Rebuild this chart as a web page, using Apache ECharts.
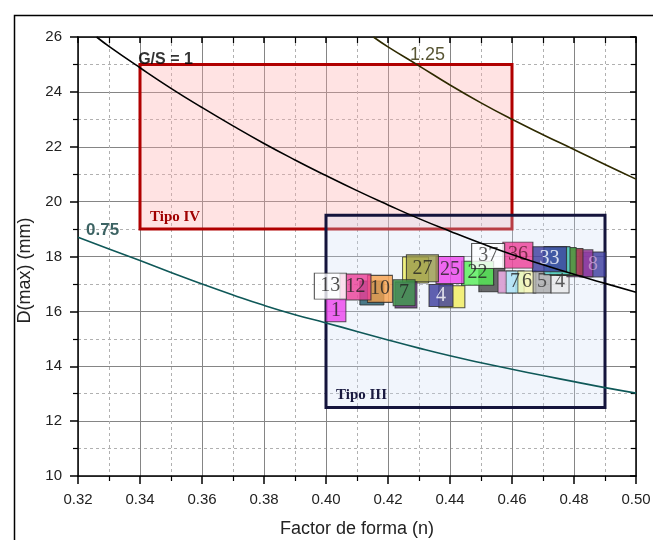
<!DOCTYPE html>
<html><head><meta charset="utf-8">
<script src="https://cdn.jsdelivr.net/npm/echarts@6/dist/echarts.min.js"></script>
<style>html,body{margin:0;padding:0;background:#fff}#c{width:653px;height:540px}</style>
</head><body><div id="c"></div>
<script>
// ---- data ----
const xTicksMin = 0.32, xTicksMax = 0.50, xStep = 0.02;
const yTicksMin = 10, yTicksMax = 26, yStep = 2;

// G/S = 1 curve
const gs1N = [0.326, 0.33, 0.34, 0.35, 0.36, 0.37, 0.38, 0.39, 0.40, 0.41, 0.42, 0.43, 0.44, 0.45, 0.46, 0.47, 0.48, 0.49, 0.50];
const gs1D = [26.0, 25.66, 24.88, 24.13, 23.43, 22.76, 22.12, 21.52, 20.95, 20.40, 19.88, 19.38, 18.92, 18.48, 18.07, 17.70, 17.35, 17.02, 16.70];
// G/S = 1.25 curve
const gs125N = [0.4153, 0.42, 0.43, 0.44, 0.45, 0.46, 0.47, 0.48, 0.49, 0.50];
const gs125D = [26.0, 25.64, 24.95, 24.25, 23.60, 23.00, 22.44, 21.90, 21.35, 20.82];
// G/S = 0.75 curve
const gs075N = [0.32, 0.33, 0.34, 0.35, 0.36, 0.37, 0.38, 0.39, 0.40, 0.41, 0.42, 0.43, 0.44, 0.45, 0.46, 0.47, 0.48, 0.49, 0.50];
const gs075D = [18.70, 18.27, 17.85, 17.42, 17.00, 16.60, 16.22, 15.88, 15.58, 15.27, 14.96, 14.66, 14.38, 14.13, 13.89, 13.66, 13.44, 13.22, 13.02];

// zones (Tipo IV, Tipo III)
const zoneNames = ['Tipo IV', 'Tipo III'];
const zoneNMin = [0.34, 0.40];
const zoneNMax = [0.46, 0.49];
const zoneDMin = [19.0, 12.5];
const zoneDMax = [25.0, 19.5];

// samples (labelled squares), listed in drawing order
const sampleLabel = ['', '', '7', '6', '5', '4', '', '4', '22', '8', '', '', '', '', '33', '36', '37', '25', '', '27', '', '7', '', '10', '12', '1', '13'];
const sampleN = [0.4535, 0.4584, 0.4610, 0.4648, 0.4697, 0.4755, 0.4406, 0.4371, 0.4489, 0.4861, 0.4819, 0.4787, 0.4765, 0.4745, 0.4721, 0.4619, 0.4523, 0.4400, 0.4289, 0.4311, 0.4258, 0.4252, 0.4148, 0.4174, 0.4095, 0.4032, 0.4014];
const sampleD = [17.15, 17.07, 17.07, 17.07, 17.07, 17.07, 16.53, 16.58, 17.39, 17.71, 17.75, 17.80, 17.82, 17.85, 17.90, 18.05, 18.02, 17.51, 17.51, 17.57, 16.60, 16.68, 16.67, 16.82, 16.89, 16.04, 16.92];

// text annotations
const noteText = ['G/S = 1', '1.25', '0.75'];
const noteN = [0.3394, 0.4271, 0.3226];
const noteD = [25.18, 25.34, 18.97];

// ---- styles ----
const sampleFill = ['#454545', '#f9b3f0', '#a8eef8', '#f8f8b0', '#a9a9a9', '#e8e8e8', '#f3ee5a', '#3b3b9c', '#55ee55', '#3b3b9c', '#9a3aa0', '#a84048', '#44aa44', '#5ad8d8', '#3b3b9c', '#ee3d96', '#ffffff', '#ee44ee', '#f0f060', '#9a9a4a', '#6b2d86', '#3c9a48', '#1f5a6a', '#f7a04a', '#ee3d96', '#ee44ee', '#ffffff'];
const sampleTextColor = ['#222', '#222', '#222', '#222', '#333', '#333', '#222', '#ffffff', '#222', '#c8a0d0', '#222', '#222', '#222', '#222', '#ffffff', '#5a2030', '#333', '#222', '#222', '#222', '#222', '#222', '#222', '#222', '#222', '#222', '#222'];
const sampleW = [26, 18, 18, 18, 18, 18, 26, 24, 32, 26, 26, 26, 26, 26, 34, 30, 33, 28, 26, 32, 22, 22, 24, 25, 31, 20, 32];
const sampleH = [24, 22, 22, 22, 22, 22, 22, 22, 24, 25, 27, 27, 28, 28, 25, 26, 25, 27, 26, 27, 26, 26, 24, 27, 26, 23, 26];
const zoneFill = ['rgba(255,170,170,0.33)', 'rgba(205,220,245,0.28)'];
const zoneStroke = ['#b00000', '#14143c'];
const zoneTextColor = ['#a00000', '#1a1a40'];
const noteColor = ['#000000', '#2e2a00', '#0b3c3c'];
const noteSize = [16, 18, 17];
const noteWeight = ['bold', 'normal', 'bold'];

const chart = echarts.init(document.getElementById('c'), null, {renderer: 'canvas'});
const font = 'Liberation Sans, Arial, sans-serif';
const serif = 'Liberation Serif, Times New Roman, serif';

function baseX(pos) {
  const main = pos === 'bottom';
  return {
    type: 'value', position: pos, min: xTicksMin, max: xTicksMax, interval: xStep,
    axisLine: {show: true, onZero: false, lineStyle: {color: '#000', width: 1.5}},
    axisTick: {show: true, inside: !main, length: main ? 8 : 6, lineStyle: {color: '#000', width: 1.5}},
    minorTick: {show: true, splitNumber: 2, length: main ? 5 : 6, lineStyle: {color: '#000', width: 1.2}},
    splitLine: {show: main, lineStyle: {color: '#858585', width: 1}},
    minorSplitLine: {show: main, lineStyle: {color: '#b0b0b0', width: 1, type: [3, 3]}},
    axisLabel: {show: main, formatter: v => v.toFixed(2), fontSize: 15, color: '#222', margin: 16, fontFamily: font},
    name: main ? 'Factor de forma (n)' : '', nameLocation: 'middle', nameGap: 44,
    nameTextStyle: {fontSize: 18, color: '#222', fontFamily: font}
  };
}
function baseY(pos) {
  const main = pos === 'left';
  return {
    type: 'value', position: pos, min: yTicksMin, max: yTicksMax, interval: yStep,
    axisLine: {show: true, onZero: false, lineStyle: {color: '#000', width: 1.5}},
    axisTick: {show: true, inside: !main, length: main ? 8 : 6, lineStyle: {color: '#000', width: 1.5}},
    minorTick: {show: true, splitNumber: 2, length: 5, lineStyle: {color: '#000', width: 1.2}},
    splitLine: {show: main, lineStyle: {color: '#858585', width: 1}},
    minorSplitLine: {show: main, lineStyle: {color: '#b0b0b0', width: 1, type: [3, 3]}},
    axisLabel: {show: main, fontSize: 15, color: '#222', margin: 16, fontFamily: font},
    name: main ? 'D(max) (mm)' : '', nameLocation: 'middle', nameGap: 42, nameRotate: 90,
    nameTextStyle: {fontSize: 18, color: '#222', fontFamily: font, padding: [0, 28, 0, 0]}
  };
}

const zoneData = zoneNames.map((nm, i) => [zoneNMin[i], zoneNMax[i], zoneDMin[i], zoneDMax[i], i]);

const option = {
  animation: false,
  backgroundColor: '#fff',
  grid: {left: 78, right: 17, top: 37, bottom: 64, outerBoundsMode: 'none', containLabel: false},
  xAxis: [baseX('bottom'), baseX('top')],
  yAxis: [baseY('left'), baseY('right')],
  graphic: [{
    type: 'rect', left: 12, top: 13, z: 100, silent: true,
    shape: {width: 700, height: 600},
    style: {fill: 'none', stroke: '#000', lineWidth: 1.5}
  }],
  series: [
    {
      type: 'custom', xAxisIndex: 0, yAxisIndex: 0, z: 2,
      data: zoneData,
      renderItem: function (params, api) {
        const i = api.value(4);
        const p0 = api.coord([api.value(0), api.value(3)]);
        const p1 = api.coord([api.value(1), api.value(2)]);
        return {
          type: 'group',
          children: [
            {type: 'rect', shape: {x: p0[0], y: p0[1], width: p1[0] - p0[0], height: p1[1] - p0[1]},
             style: {fill: zoneFill[i], stroke: zoneStroke[i], lineWidth: 3}},
            {type: 'text', x: p0[0] + 10, y: p1[1] - 12,
             style: {text: zoneNames[i], fill: zoneTextColor[i], font: 'bold 15px ' + serif, verticalAlign: 'middle'}}
          ]
        };
      }
    },
    {
      type: 'scatter', z: 3, symbol: 'rect',
      data: sampleN.map((n, i) => ({
        value: [n, sampleD[i]],
        symbolSize: [sampleW[i], sampleH[i]],
        itemStyle: {color: sampleFill[i], borderColor: '#2a2a2a', borderWidth: 1},
        label: {color: sampleTextColor[i]}
      })),
      label: {show: true, position: 'inside', fontFamily: serif, fontSize: 20,
        formatter: p => sampleLabel[p.dataIndex]},
      emphasis: {disabled: true}
    },
    {type: 'line', z: 4, smooth: true, showSymbol: false, symbol: 'none',
     data: gs1N.map((n, i) => [n, gs1D[i]]), lineStyle: {color: '#000', width: 1.6}},
    {type: 'line', z: 4, smooth: true, showSymbol: false, symbol: 'none',
     data: gs125N.map((n, i) => [n, gs125D[i]]), lineStyle: {color: '#2e2a00', width: 1.6}},
    {type: 'line', z: 4, smooth: true, showSymbol: false, symbol: 'none',
     data: gs075N.map((n, i) => [n, gs075D[i]]), lineStyle: {color: '#0f5858', width: 1.6}},
    {
      type: 'scatter', z: 5, symbolSize: 0,
      data: noteN.map((n, i) => ({
        value: [n, noteD[i]],
        label: {show: true, position: 'right', distance: 0, formatter: noteText[i],
          color: noteColor[i], fontSize: noteSize[i], fontWeight: noteWeight[i], fontFamily: font}
      })),
      emphasis: {disabled: true}
    }
  ]
};
chart.setOption(option);
</script>
</body></html>
